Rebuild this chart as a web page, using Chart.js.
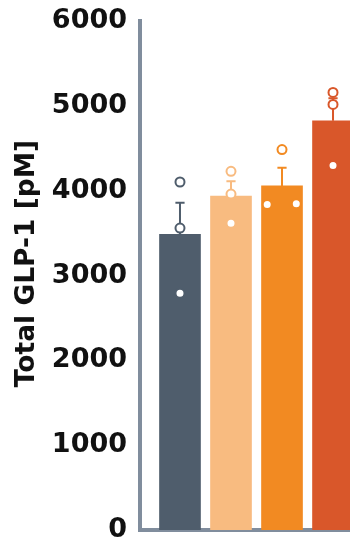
<!DOCTYPE html>
<html>
<head>
<meta charset="utf-8">
<script src="https://cdn.jsdelivr.net/npm/chart.js@4.4.1/dist/chart.umd.min.js"></script>
<style>
  html, body { margin: 0; padding: 0; background: #ffffff; overflow: hidden; }
  #wrap { position: relative; width: 350px; height: 539px; }
</style>
</head>
<body>
<div id="wrap"><canvas id="c"></canvas></div>
<script>
// Group means with SEM, and the individual replicate values per group
const groups = ['Group 1', 'Group 2', 'Group 3', 'Group 4'];
const means = [3484, 3935, 4056, 4823];
const sem = [374, 175, 213, 267];
const replicates1 = [4102, 3559, 2791];
const replicates2 = [4228, 3960, 3617];
const replicates3 = [4484, 3838, 3846];
const replicates4 = [5158, 5016, 4296];
const yTicks = [0, 1000, 2000, 3000, 4000, 5000, 6000];
const yTitle = 'Total GLP-1 [pM]';

const replicates = [replicates1, replicates2, replicates3, replicates4];

// Styling
const colors = ['#4f5d6c', '#f8bb80', '#f28a22', '#d9572a'];
const axisColor = '#808d9d';
const textColor = '#111111';
const fontFamily = '"DejaVu Sans", "Liberation Sans", sans-serif';
// horizontal spread of replicate dots inside a bar (in x-axis units)
const spread = [[0, 0, 0], [0, 0, 0], [0, -0.29, 0.28], [0, 0, 0]];
const capHalf = 0.09;

const datasets = [];

// Bars (group means)
datasets.push({
  type: 'bar',
  label: 'mean',
  data: groups.map((g, i) => ({ x: i + 1, y: means[i] })),
  backgroundColor: colors,
  borderWidth: 0,
  barThickness: 41,
  order: 3
});

// Upper error bars: stem plus cap, broken by a gap
groups.forEach((g, i) => {
  const top = means[i] + sem[i];
  datasets.push({
    type: 'line',
    label: g + ' SEM',
    data: [
      { x: i + 1, y: means[i] },
      { x: i + 1, y: top },
      { x: i + 1, y: null },
      { x: i + 1 - capHalf, y: top },
      { x: i + 1 + capHalf, y: top }
    ],
    borderColor: colors[i],
    borderWidth: 2,
    pointRadius: 0,
    pointHoverRadius: 0,
    spanGaps: false,
    tension: 0,
    fill: false,
    order: 2
  });
});

// Replicate dots
groups.forEach((g, i) => {
  datasets.push({
    type: 'scatter',
    label: g + ' replicates',
    data: replicates[i].map((v, k) => ({ x: i + 1 + spread[i][k], y: v })),
    pointRadius: 4.5,
    pointBorderWidth: 2,
    pointBackgroundColor: '#ffffff',
    pointBorderColor: colors[i],
    clip: false,
    order: 1
  });
});

// Rotated y-axis title, drawn to the left of the tick labels
const yTitlePlugin = {
  id: 'yTitle',
  afterDraw(chart) {
    const { ctx, chartArea } = chart;
    ctx.save();
    ctx.translate(27, (chartArea.top + chartArea.bottom) / 2 - 12);
    ctx.rotate(-Math.PI / 2);
    ctx.font = 'bold 26.5px ' + fontFamily;
    ctx.fillStyle = textColor;
    ctx.textAlign = 'center';
    ctx.textBaseline = 'middle';
    ctx.fillText(yTitle, 0, 0);
    ctx.restore();
  }
};

new Chart(document.getElementById('c'), {
  type: 'bar',
  data: { datasets },
  plugins: [yTitlePlugin],
  options: {
    responsive: true,
    maintainAspectRatio: false,
    animation: false,
    layout: { autoPadding: false, padding: { top: 21, bottom: 9, left: 0, right: 0 } },
    plugins: {
      legend: { display: false },
      tooltip: { enabled: false }
    },
    scales: {
      x: {
        type: 'linear',
        offset: false,
        min: 0.216,
        max: 4.333,
        afterFit: (scale) => {
          scale.paddingLeft = 0; scale.paddingRight = 0;
          scale.paddingTop = 0; scale.paddingBottom = 0;
        },
        ticks: { display: false },
        grid: { display: false, drawTicks: false, offset: false },
        border: { display: true, color: axisColor, width: 4 }
      },
      y: {
        min: 0,
        max: 6000,
        afterBuildTicks: (scale) => { scale.ticks = yTicks.map(v => ({ value: v })); },
        afterFit: (scale) => {
          scale.width = 140;
          scale.paddingTop = 0; scale.paddingBottom = 0;
        },
        ticks: {
          color: textColor,
          padding: 13,
          font: { family: fontFamily, weight: 'bold', size: 27 },
          callback: (v) => String(v)
        },
        grid: { display: false, drawTicks: false },
        border: { display: true, color: axisColor, width: 4 }
      }
    }
  }
});
</script>
</body>
</html>
